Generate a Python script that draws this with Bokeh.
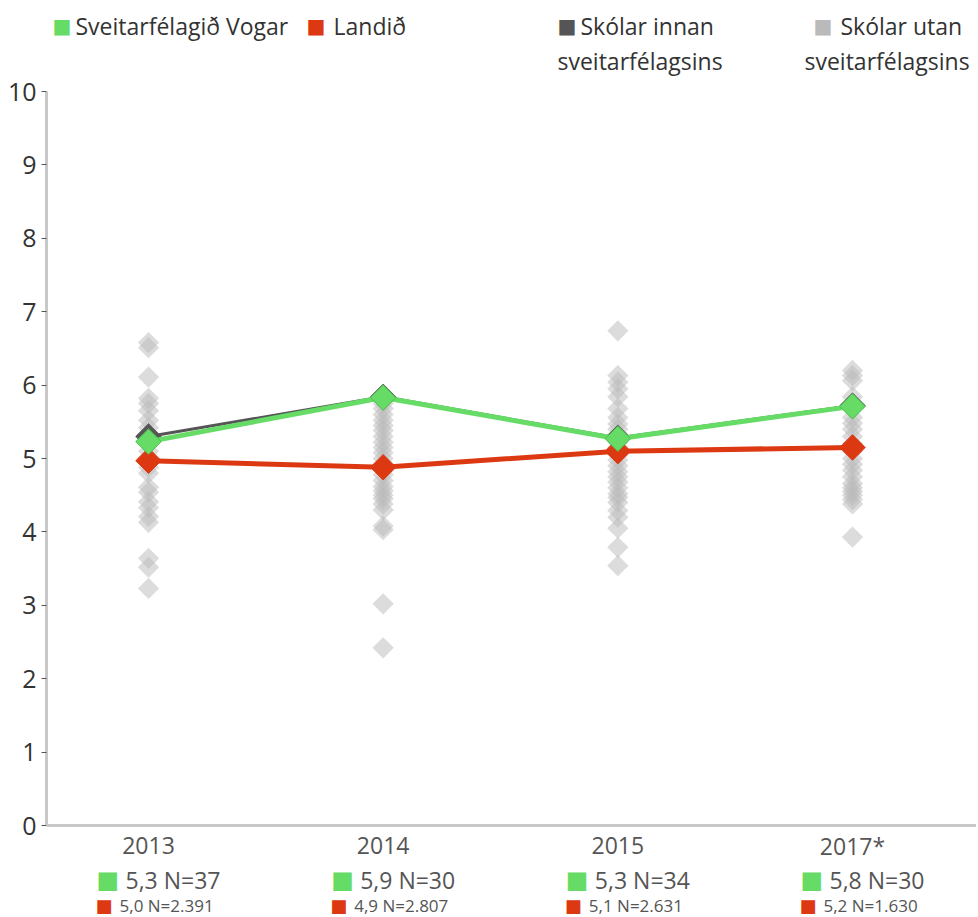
import numpy as np
from bokeh.plotting import figure
from bokeh.models import Range1d, FixedTicker, Span, ColumnDataSource
from bokeh.embed import file_html
from bokeh.resources import INLINE
from bokeh.core.properties import value

# ---------------- data ----------------
years = ["2013", "2014", "2015", "2017*"]
vogar = [5.23, 5.83, 5.27, 5.71]          # Sveitarfélagið Vogar
landid = [4.97, 4.88, 5.10, 5.15]         # Landið
innan = [5.30, 5.84, 5.28, 5.72]          # Skólar innan sveitarfélagsins
vogar_labels = ["5,3 N=37", "5,9 N=30", "5,3 N=34", "5,8 N=30"]
landid_labels = ["5,0 N=2.391", "4,9 N=2.807", "5,1 N=2.631", "5,2 N=1.630"]

# Skólar utan sveitarfélagsins (one value per school)
utan_2013 = [6.58, 6.51, 6.11, 5.82, 5.75, 5.65, 5.52, 5.42, 5.30, 5.10, 5.00,
             4.88, 4.80, 4.61, 4.54, 4.41, 4.33, 4.21, 4.13, 3.64, 3.52, 3.23]
utan_2014 = [5.75, 5.68, 5.60, 5.52, 5.45, 5.38, 5.30, 5.22, 5.15, 5.08, 5.00,
             4.93, 4.85, 4.78, 4.70, 4.62, 4.56, 4.50, 4.45, 4.38, 4.30, 4.08,
             4.03, 3.02, 2.42]
utan_2015 = [6.74, 6.13, 6.04, 5.95, 5.84, 5.68, 5.56, 5.47, 5.40, 5.33, 5.22,
             5.15, 5.05, 4.98, 4.90, 4.82, 4.75, 4.68, 4.60, 4.52, 4.47, 4.40,
             4.29, 4.20, 4.05, 3.79, 3.54]
utan_2017 = [6.20, 6.13, 6.06, 5.84, 5.56, 5.48, 5.40, 5.30, 5.20, 5.10, 5.00,
             4.92, 4.84, 4.75, 4.66, 4.60, 4.55, 4.50, 4.44, 4.38, 3.93]
utan = [utan_2013, utan_2014, utan_2015, utan_2017]

legend_names = ["Sveitarfélagið Vogar", "Landið", "Skólar innan", "Skólar utan"]
legend_second = ["", "", "sveitarfélagsins", "sveitarfélagsins"]

# ---------------- styles ----------------
GREEN = "#66dc66"
GREEN_EDGE = "#4cbf4c"
RED = "#dc3912"
DARK = "#555555"
LIGHT = "#bababa"
FONT = value("Open Sans")
SQ_FONT = value("DejaVu Sans")
TXT = "#333333"
SUB = "#555555"

xs = list(range(len(years)))

W, H = 976, 917
p = figure(width=W, height=H, output_backend="svg", toolbar_location=None,
           x_range=Range1d(-0.4347, 3.5284), y_range=Range1d(-1.2534, 11.2398),
           x_axis_location=None,
           min_border_left=46, min_border_right=0, min_border_top=0,
           min_border_bottom=0)
p.outline_line_color = None
p.grid.visible = False

# bottom axis line at 0
p.add_layout(Span(location=0, dimension="width", line_color="#c8c8c8", line_width=3))

# gray scatter of other schools
ux, uy = [], []
for i, vals in enumerate(utan):
    ux += [i] * len(vals)
    uy += vals
p.scatter(ux, uy, marker="square", angle=np.pi / 4, size=15,
          fill_color=LIGHT, fill_alpha=0.5, line_color=None)

# Skólar innan
p.line(xs, innan, line_color=DARK, line_width=3)
p.scatter(xs, innan, marker="square", angle=np.pi / 4, size=18,
          fill_color=DARK, line_color=DARK)

# Landið
p.line(xs, landid, line_color=RED, line_width=5)
p.scatter(xs, landid, marker="square", angle=np.pi / 4, size=18,
          fill_color=RED, line_color=RED)

# Vogar
p.line(xs, vogar, line_color=GREEN, line_width=5)
p.scatter(xs, vogar, marker="square", angle=np.pi / 4, size=18,
          fill_color=GREEN, line_color=GREEN_EDGE, line_width=1)

# ---------------- y axis ----------------
yax = p.yaxis[0]
yax.ticker = FixedTicker(ticks=list(range(0, 11)))
yax.bounds = (0, 10)
yax.axis_line_color = "#c8c8c8"
yax.axis_line_width = 3
yax.major_tick_line_color = DARK
yax.major_tick_out = 5
yax.major_tick_in = 0
yax.minor_tick_line_color = None
yax.major_label_text_font = "Open Sans"
yax.major_label_text_font_size = "25px"
yax.major_label_text_color = TXT
yax.major_label_standoff = 5

# ---------------- category labels and values under the axis ----------------
zeros = [0] * len(xs)
cat = ColumnDataSource(dict(x=xs, y=zeros, year=years, v=vogar_labels, l=landid_labels,
                            sq=["\u25A0"] * len(xs)))
p.text(x="x", y="y", text="year", source=cat, x_offset=0, y_offset=20,
       text_font=FONT, text_font_size="23px", text_color=SUB,
       text_align="center", text_baseline="middle")
p.text(x="x", y="y", text="sq", source=cat, x_offset=-52, y_offset=54,
       text_font=SQ_FONT, text_font_size="24px", text_color=GREEN,
       text_align="left", text_baseline="middle")
p.text(x="x", y="y", text="v", source=cat, x_offset=-23, y_offset=54,
       text_font=FONT, text_font_size="23px", text_color=SUB,
       text_align="left", text_baseline="middle")
p.text(x="x", y="y", text="sq", source=cat, x_offset=-53, y_offset=80,
       text_font=SQ_FONT, text_font_size="18px", text_color=RED,
       text_align="left", text_baseline="middle")
p.text(x="x", y="y", text="l", source=cat, x_offset=-29, y_offset=80,
       text_font=FONT, text_font_size="17px", text_color=SUB,
       text_align="left", text_baseline="middle")

# ---------------- legend (top) ----------------
x0 = p.x_range.start
leg_colors = [GREEN, RED, DARK, LIGHT]
sq_off = [6, 260, 511, 767]
txt_off = [29, 287, 534, 794]
second_off = [0, 0, 511, 758]
n = len(legend_names)
leg = ColumnDataSource(dict(x=[x0] * n, y=[10] * n, sq=["\u25A0"] * n, c=leg_colors,
                            sx=sq_off, tx=txt_off, s2=second_off,
                            name=legend_names, second=legend_second))
p.text(x="x", y="y", text="sq", source=leg, x_offset="sx", y_offset=-66,
       text_font=SQ_FONT, text_font_size="20px", text_color="c",
       text_align="left", text_baseline="middle")
p.text(x="x", y="y", text="name", source=leg, x_offset="tx", y_offset=-66,
       text_font=FONT, text_font_size="23px", text_color=TXT,
       text_align="left", text_baseline="middle")
p.text(x="x", y="y", text="second", source=leg, x_offset="s2", y_offset=-31,
       text_font=FONT, text_font_size="23px", text_color=TXT,
       text_align="left", text_baseline="middle")

open("out.html", "w").write(file_html(p, INLINE))
